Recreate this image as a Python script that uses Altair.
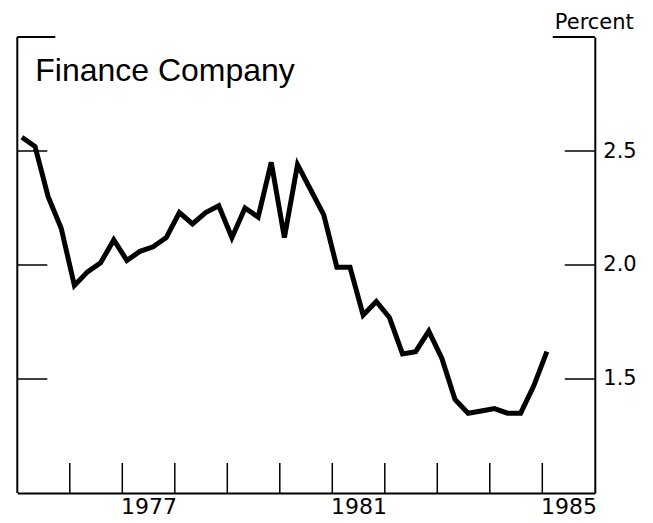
import altair as alt
import pandas as pd

# ---- data ----
title_text = "Finance Company"
unit_text = "Percent"
first_quarter = "1975Q1"
values = [2.56, 2.52, 2.30, 2.16, 1.91, 1.97, 2.01, 2.11,
          2.02, 2.06, 2.08, 2.12, 2.23, 2.18, 2.23, 2.26,
          2.12, 2.25, 2.21, 2.45, 2.12, 2.44, 2.33, 2.22,
          1.99, 1.99, 1.78, 1.84, 1.77, 1.61, 1.62, 1.71,
          1.59, 1.41, 1.35, 1.36, 1.37, 1.35, 1.35, 1.47,
          1.62]
tick_years = [1976, 1977, 1978, 1979, 1980, 1981, 1982, 1983, 1984, 1985]
label_years = [1977, 1981, 1985]
y_ticks = [1.5, 2.0, 2.5]
x_domain = [1975, 1986]
y_domain = [1.0, 3.0]

# ---- tables ----
periods = pd.period_range(first_quarter, periods=len(values), freq="Q")
df = pd.DataFrame({
    "t": [p.year + (p.quarter - 0.65) / 4 for p in periods],
    "v": values,
})
xt_df = pd.DataFrame({"t": tick_years})
yt_df = pd.DataFrame({"v": y_ticks})
one = pd.DataFrame({"label": [title_text]})

W, H = 577.5, 456
FONT = "DejaVu Sans"

xs = alt.Scale(domain=x_domain, nice=False, zero=False)
ys = alt.Scale(domain=y_domain, nice=False, zero=False)

x_axis = alt.Axis(
    orient="bottom", values=[y + 0.5 for y in label_years],
    labelExpr="floor(datum.value)", ticks=False, grid=False,
    domainColor="black", domainWidth=2, labelFontSize=22, labelFont=FONT,
    labelColor="black", labelPadding=21, labelBaseline="alphabetic",
    title=None, labelFlush=False, labelOverlap=False)
y_axis = alt.Axis(
    orient="right", values=y_ticks, format=".1f", ticks=False, grid=False,
    domainColor="black", domainWidth=2, labelFontSize=21, labelFont=FONT,
    labelColor="black", labelPadding=8, labelFlush=False,
    title=unit_text, titleAngle=0, titleAlign="center", titleX=-1,
    titleY=-9, titleBaseline="alphabetic", titleFontSize=21,
    titleFont=FONT, titleFontWeight="normal", titleColor="black")

line = alt.Chart(df).mark_line(color="black", strokeWidth=5).encode(
    x=alt.X("t:Q", scale=xs, axis=x_axis),
    y=alt.Y("v:Q", scale=ys, axis=y_axis),
)

left_line = alt.Chart(one).mark_rule(color="black", strokeWidth=2).encode(
    x=alt.value(0), y=alt.value(0), y2=alt.value(H))
top_left = alt.Chart(one).mark_rule(color="black", strokeWidth=2).encode(
    x=alt.value(0), x2=alt.value(38), y=alt.value(0))
top_right = alt.Chart(one).mark_rule(color="black", strokeWidth=2).encode(
    x=alt.value(W - 42), x2=alt.value(W), y=alt.value(0))

left_ticks = alt.Chart(yt_df).mark_rule(color="black", strokeWidth=1.5).encode(
    y=alt.Y("v:Q", scale=ys, axis=y_axis), x=alt.value(0), x2=alt.value(30))
right_ticks = alt.Chart(yt_df).mark_rule(color="black", strokeWidth=1.5).encode(
    y=alt.Y("v:Q", scale=ys, axis=y_axis), x=alt.value(W - 30), x2=alt.value(W))
x_ticks = alt.Chart(xt_df).mark_rule(color="black", strokeWidth=1.5).encode(
    x=alt.X("t:Q", scale=xs, axis=x_axis), y=alt.value(H - 30), y2=alt.value(H))

title = alt.Chart(one).mark_text(
    align="left", baseline="alphabetic", fontSize=32, font="Liberation Sans",
    color="black"
).encode(x=alt.value(18), y=alt.value(44), text="label:N")

chart = alt.layer(
    line, left_line, top_left, top_right, left_ticks, right_ticks, x_ticks, title
).properties(
    width=W, height=H,
    padding={"left": 9.3, "top": 29, "right": 48, "bottom": 22},
    autosize=alt.AutoSizeParams(type="none"),
    background="white",
).configure_view(stroke=None)

chart.save("out.html", embed_options={"renderer": "svg", "actions": False})
